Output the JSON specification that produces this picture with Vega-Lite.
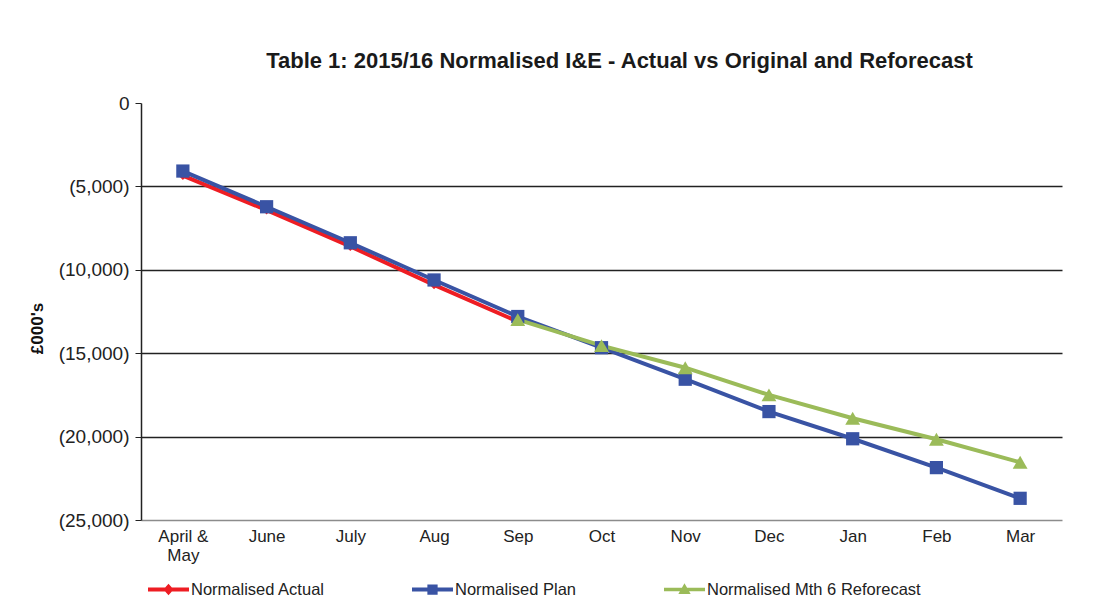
{
  "$schema": "https://vega.github.io/schema/vega-lite/v6.json",
  "autosize": "none",
  "width": 921,
  "height": 417,
  "padding": {"left": 141, "top": 103, "right": 33, "bottom": 93},
  "background": "white",
  "config": {"view": {"stroke": null}, "font": "Liberation Sans"},
  "title": {"text": "Table 1: 2015/16 Normalised I&E - Actual vs Original and Reforecast", "fontSize": 22, "font": "Liberation Sans", "fontWeight": "bold", "color": "#1a1a1a", "anchor": "middle", "offset": 21, "dx": 18},
  "data": {"values": [
    {"month": "April & May", "series": "Normalised Actual", "value": -4350},
    {"month": "June", "series": "Normalised Actual", "value": -6420},
    {"month": "July", "series": "Normalised Actual", "value": -8600},
    {"month": "Aug", "series": "Normalised Actual", "value": -10900},
    {"month": "Sep", "series": "Normalised Actual", "value": -13100},
    {"month": "April & May", "series": "Normalised Plan", "value": -4080},
    {"month": "June", "series": "Normalised Plan", "value": -6220},
    {"month": "July", "series": "Normalised Plan", "value": -8380},
    {"month": "Aug", "series": "Normalised Plan", "value": -10610},
    {"month": "Sep", "series": "Normalised Plan", "value": -12800},
    {"month": "Oct", "series": "Normalised Plan", "value": -14670},
    {"month": "Nov", "series": "Normalised Plan", "value": -16560},
    {"month": "Dec", "series": "Normalised Plan", "value": -18500},
    {"month": "Jan", "series": "Normalised Plan", "value": -20130},
    {"month": "Feb", "series": "Normalised Plan", "value": -21860},
    {"month": "Mar", "series": "Normalised Plan", "value": -23700},
    {"month": "Sep", "series": "Normalised Mth 6 Reforecast", "value": -12990},
    {"month": "Oct", "series": "Normalised Mth 6 Reforecast", "value": -14550},
    {"month": "Nov", "series": "Normalised Mth 6 Reforecast", "value": -15870},
    {"month": "Dec", "series": "Normalised Mth 6 Reforecast", "value": -17500},
    {"month": "Jan", "series": "Normalised Mth 6 Reforecast", "value": -18900},
    {"month": "Feb", "series": "Normalised Mth 6 Reforecast", "value": -20160},
    {"month": "Mar", "series": "Normalised Mth 6 Reforecast", "value": -21540}
  ]},
  "encoding": {
    "x": {
      "field": "month", "type": "ordinal",
      "sort": ["April & May", "June", "July", "Aug", "Sep", "Oct", "Nov", "Dec", "Jan", "Feb", "Mar"],
      "scale": {"padding": 0.5},
      "axis": {"title": null, "labelAngle": 0, "labelFontSize": 17, "labelColor": "#222", "labelFont": "Liberation Sans", "labelPadding": 8, "ticks": false, "grid": false, "domainColor": "#8c8c8c", "domainWidth": 1.5, "labelExpr": "datum.value === 'April & May' ? ['April &', 'May'] : datum.value", "labelLineHeight": 19, "labelBaseline": "top"}
    },
    "y": {
      "field": "value", "type": "quantitative",
      "scale": {"domain": [-25000, 0], "nice": false, "zero": false},
      "axis": {"title": "£000's", "titleFontSize": 17, "titleFontWeight": "bold", "titleFont": "Liberation Sans", "titleColor": "#111", "titleAngle": -90, "titleX": -95, "titleY": 225, "titleAlign": "center", "titleBaseline": "bottom",
        "values": [0, -5000, -10000, -15000, -20000, -25000],
        "labelExpr": "datum.value == 0 ? '0' : '(' + format(-datum.value, ',') + ')'",
        "labelFontSize": 19, "labelColor": "#222", "labelFont": "Liberation Sans", "labelPadding": 6, "labelFlush": false, "labelOverlap": false,
        "tickSize": 6, "tickColor": "#222", "domainColor": "#222", "domainWidth": 1.5,
        "grid": true, "gridColor": "#222", "gridWidth": 1.3,
        "gridOpacity": {"condition": {"test": "datum.value === 0 || datum.value === -25000", "value": 0}, "value": 1}}
    },
    "color": {
      "field": "series", "type": "nominal",
      "scale": {"domain": ["Normalised Actual", "Normalised Plan", "Normalised Mth 6 Reforecast"], "range": ["#ee1d23", "#3953a4", "#9bbb59"]},
      "legend": {"orient": "none", "legendX": 7, "legendY": 466, "direction": "horizontal", "title": null,
        "symbolSize": 1681, "symbolType": "M-1,-0.1H1V0.1H-1Z", "symbolStrokeWidth": 0, "labelLimit": 400,
        "labelFontSize": 16.5, "labelFont": "Liberation Sans", "labelColor": "#222", "labelOffset": 2, "columnPadding": 87,
        "encode": {"symbols": {"update": {
          "shape": {"signal": "datum.value === 'Normalised Actual' ? 'M-1,-0.1H1V0.1H-1Z M0,-0.28L0.25,0L0,0.28L-0.25,0Z' : datum.value === 'Normalised Plan' ? 'M-1,-0.1H1V0.1H-1Z M-0.25,-0.25H0.25V0.25H-0.25Z' : 'M-1,-0.09H1V0.09H-1Z M0,-0.3L0.3,0.22L-0.3,0.22Z'"},
          "size": {"value": 1681},
          "fill": {"scale": "color", "field": "value"},
          "stroke": {"value": "transparent"},
          "opacity": {"value": 1}
        }}}
      }
    }
  },
  "layer": [
    {"mark": {"type": "line", "strokeWidth": 4}},
    {"transform": [{"filter": "datum.series === 'Normalised Actual'"}],
     "mark": {"type": "point", "filled": true, "opacity": 1, "shape": "diamond", "size": 80}},
    {"transform": [{"filter": "datum.series === 'Normalised Plan'"}],
     "mark": {"type": "point", "filled": true, "opacity": 1, "shape": "square", "size": 175}},
    {"transform": [{"filter": "datum.series === 'Normalised Mth 6 Reforecast'"}],
     "mark": {"type": "point", "filled": true, "opacity": 1, "shape": "triangle-up", "size": 220}}
  ]
}
